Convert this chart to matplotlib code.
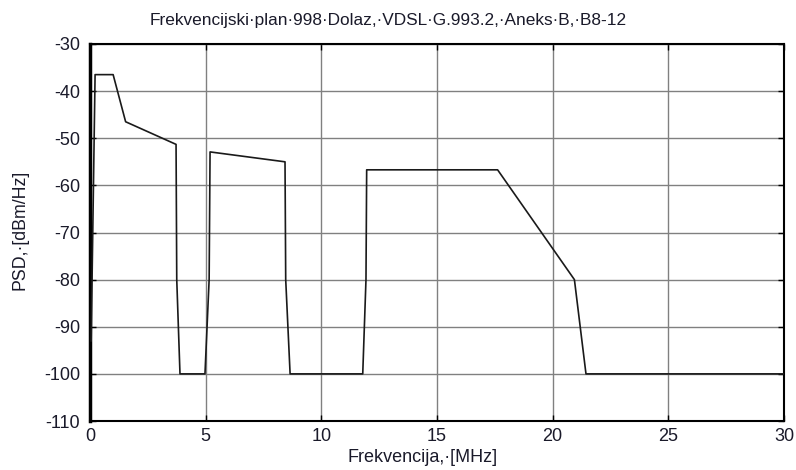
import matplotlib
matplotlib.use("Agg")
import matplotlib.pyplot as plt

freq_mhz = [0.05, 0.22, 1.0, 1.54, 3.72, 3.75, 3.89, 4.97, 5.15, 5.19, 8.43, 8.46, 8.65,
            11.79, 11.93, 11.96, 17.62, 20.94, 21.44, 30.0]
psd_dbm = [-93.0, -36.5, -36.5, -46.5, -51.3, -80.0, -100.0, -100.0, -80.0, -52.9, -55.0, -80.0, -100.0,
           -100.0, -80.0, -56.7, -56.7, -80.0, -100.0, -100.0]

x_ticks = [0, 5, 10, 15, 20, 25, 30]
y_ticks = [-110, -100, -90, -80, -70, -60, -50, -40, -30]
y_tick_labels = ["-110", "-100", "-90", "-80", "-70", "-60", "-50", "-40", "-30"]

title = "Frekvencijski\u00b7plan\u00b7998\u00b7Dolaz,\u00b7VDSL\u00b7G.993.2,\u00b7Aneks\u00b7B,\u00b7B8-12"
xlabel = "Frekvencija,\u00b7[MHz]"
ylabel = "PSD,\u00b7[dBm/Hz]"

plt.rcParams['font.family'] = ['Liberation Sans', 'DejaVu Sans']
text_color = '#1a1a2a'

W, H = 796, 470
fig = plt.figure(figsize=(W/100, H/100), dpi=100)
ax = fig.add_axes([90/W, 1-421/H, (784-90)/W, (421-44)/H])

ax.plot(freq_mhz, psd_dbm, color='#1a1a1a', linewidth=1.2, zorder=3)

ax.set_xlim(0, 30)
ax.set_ylim(-110, -30)
ax.set_xticks(x_ticks)
ax.set_yticks(y_ticks)
ax.set_yticklabels(y_tick_labels)
ax.grid(True, color='#808080', linewidth=1.0)
ax.set_axisbelow(True)

ax.tick_params(direction='in', length=4, width=1, top=True, right=True,
               labelsize=13, labelcolor=text_color)
ax.tick_params(axis='y', pad=7)
ax.tick_params(axis='x', pad=5)
for side, sp in ax.spines.items():
    sp.set_color('black')
    sp.set_linewidth(1.5)
ax.spines['left'].set_linewidth(2.5)

fig.text(388/W, 1-21/H, title, fontsize=12.4, color=text_color, ha='center', va='center')
fig.text(423/W, 1-457/H, xlabel, fontsize=13, color=text_color, ha='center', va='center')
fig.text(20/W, 1-230/H, ylabel, fontsize=12.8, color=text_color, ha='center', va='center',
         rotation=90)

fig.savefig("out.png", dpi=100)
